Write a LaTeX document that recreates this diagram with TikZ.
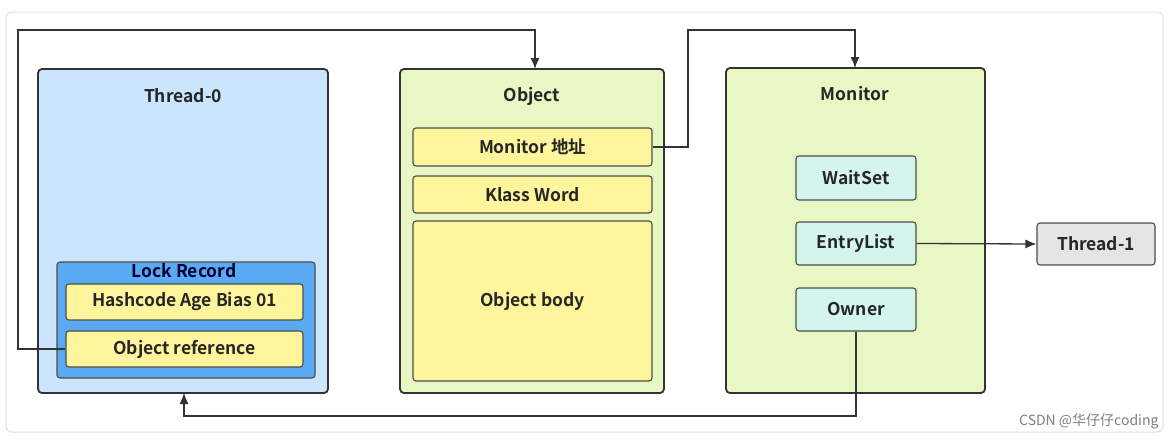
\documentclass[tikz,border=0pt]{standalone}
\usepackage{fontspec}
\usetikzlibrary{arrows.meta}
\setmainfont{Noto Sans CJK SC}[BoldFont={* Bold}]
\begin{document}
\begin{tikzpicture}[x=1pt,y=-1pt,
  tf/.style={font=\bfseries\fontsize{17.5}{20}\selectfont,text=black!85},
  box/.style={draw=black!80,line width=1.8pt,rounded corners=4pt},
  ibox/.style={draw=black!70,line width=1.1pt,rounded corners=3pt,tf},
  conn/.style={draw=black!80,line width=1.3pt},
  arr/.style={conn,-{Latex[length=11pt,width=9pt]}}]
\useasboundingbox (0,0) rectangle (1169,439);
\fill[white] (0,0) rectangle (1169,439);
\draw[black!12,line width=1pt,rounded corners=6pt] (6,12) rectangle (1163,432);
\definecolor{tfill}{HTML}{CCE5FF}
\definecolor{lfill}{HTML}{5AAAF2}
\definecolor{yfill}{HTML}{FFF59D}
\definecolor{gfill}{HTML}{E8F7C4}
\definecolor{cfill}{HTML}{D3F5EE}
% Thread-0
\path[box,fill=tfill] (38,69) rectangle (328,393);
\node[tf] (t0) at (183,96) {Thread-0};
\coordinate (t0b) at (184,393);
\path[ibox,fill=lfill] (57,262) rectangle (315,378);
\node[tf,text=black!80!blue] (lr) at (184,271) {Lock Record};
\node[ibox,fill=yfill,minimum width=237pt,minimum height=36pt] (hc) at (184.5,302) {Hashcode Age Bias 01};
\node[ibox,fill=yfill,minimum width=237pt,minimum height=36pt] (oref) at (184.5,349) {Object reference};
% Object
\path[box,fill=gfill] (400,69) rectangle (664,393);
\node[tf] (ot) at (532,96) {Object};
\coordinate (otop) at (535,69);
\node[ibox,fill=yfill,minimum width=239pt,minimum height=38pt] (maddr) at (532.5,147) {Monitor 地址};
\node[ibox,fill=yfill,minimum width=239pt,minimum height=37pt] (kw) at (532.5,194.5) {Klass Word};
\node[ibox,fill=yfill,minimum width=239pt,minimum height=160pt] (ob) at (532.5,301) {Object body};
% Monitor
\path[box,fill=gfill] (726,68) rectangle (985,393);
\node[tf] (mt) at (855,94) {Monitor};
\coordinate (mtop) at (855,68);
\node[ibox,fill=cfill,minimum width=120pt,minimum height=44pt] (ws) at (856,178) {WaitSet};
\node[ibox,fill=cfill,minimum width=120pt,minimum height=43pt] (el) at (856,243.5) {EntryList};
\node[ibox,fill=cfill,minimum width=120pt,minimum height=43pt] (ow) at (856,309.5) {Owner};
\node[ibox,fill=black!10,minimum width=118pt,minimum height=42pt] (t1) at (1096,244) {Thread-1};
% connectors
\draw[arr] (oref.west) -- (18,349) -- (18,30) -- (535,30) -- (otop);
\draw[arr] (maddr.east) -- (688,147) -- (688,30) -- (855,30) -- (mtop);
\draw[arr] (el.east) -- (t1.west);
\draw[arr] (ow.south) -- (856,416) -- (184,416) -- (t0b);
\node[font=\fontsize{14}{16}\selectfont,text=black!50,anchor=east] (wm) at (1162,421) {CSDN @华仔仔coding};
\end{tikzpicture}
\end{document}
